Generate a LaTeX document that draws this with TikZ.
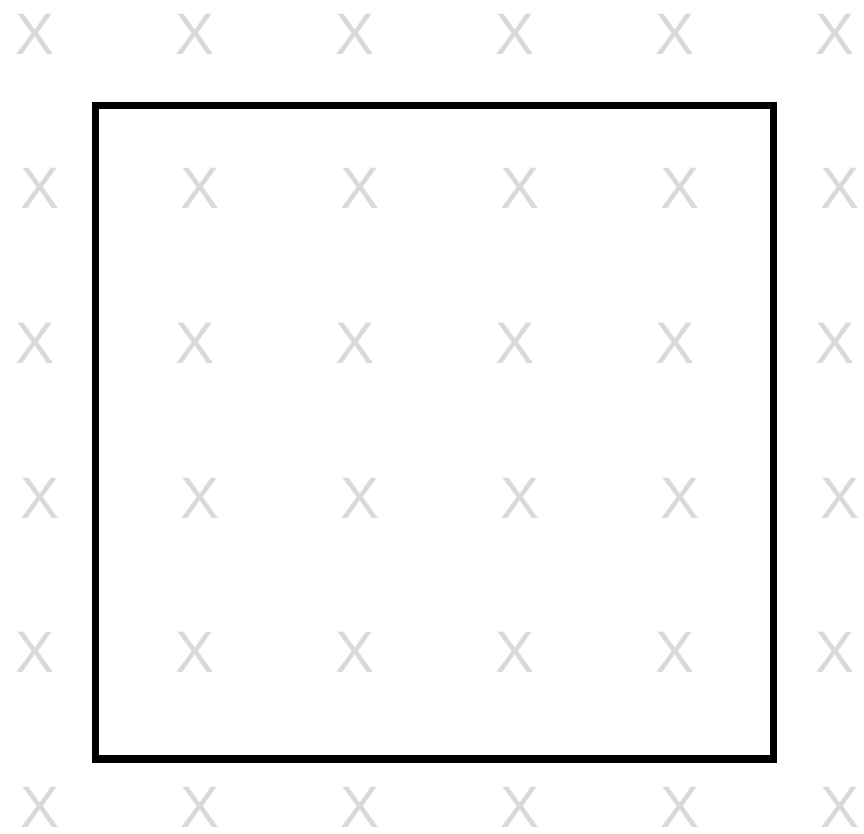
\documentclass[tikz,border=0pt]{standalone}
\usepackage{fontspec}
\setmainfont{Liberation Sans}
\usepackage{xcolor}
\definecolor{markgray}{HTML}{D9D9D9}

\begin{document}
\begin{tikzpicture}[x=0.03cm, y=-0.03cm,
		mark x/.style={text=markgray, inner sep=0pt, minimum size=0mm, font=\fontsize{50}{60}\selectfont}]
		\useasboundingbox (0, 0) rectangle (864, 833);
		% Background grid of marks
		\foreach \r in {0,...,5} {
			\pgfmathsetmacro{\yy}{34 + 154.7*\r}
			\pgfmathsetmacro{\dx}{ifthenelse(mod(\r,2)==0, 35, 40)}
			\foreach \c in {0,...,5} {
				\node[mark x] (m\r\c) at ({\dx + 160*\c}, \yy) {X};
			}
		}
		%
		\coordinate (TL) at (95.5, 105.5); % top left corner
		\coordinate (BR) at (773.3, 759); % bottom right corner
		% The frame
		\draw[line width=6.4pt] (TL) rectangle (BR);
	\end{tikzpicture}
\end{document}
